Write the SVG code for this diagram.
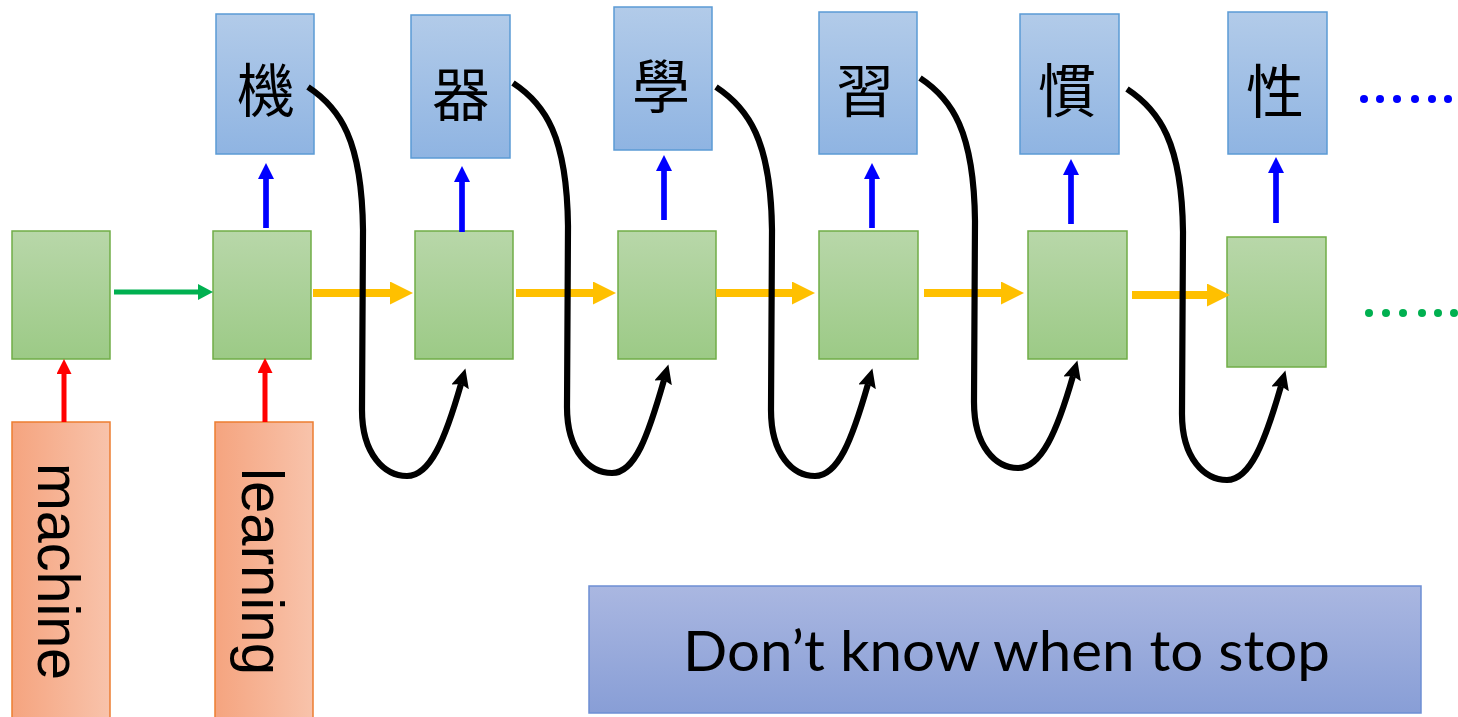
<svg xmlns="http://www.w3.org/2000/svg" width="1458" height="717" viewBox="0 0 1458 717">
<style>
.blue{fill:url(#gBlue);stroke:#5b9bd5;stroke-width:1.5}
.green{fill:url(#gGreen);stroke:#70ad47;stroke-width:1.5}
.red{fill:url(#gRed);stroke:#ed7d31;stroke-width:1.5}
.cjk{font-family:"Noto Sans CJK TC","Noto Sans CJK SC",sans-serif;font-size:58px;fill:#000;text-anchor:middle;dominant-baseline:central}
.word{font-family:"Liberation Sans",Arial,sans-serif;font-size:60px;fill:#000}
.a-red{stroke:#ff0000;stroke-width:5;fill:none;marker-end:url(#mRed)}
.a-blue{stroke:#0000ff;stroke-width:5.7;fill:none;marker-end:url(#mBlue)}
.a-green{stroke:#00b050;stroke-width:5;fill:none;marker-end:url(#mGreen)}
.a-yel{stroke:#ffc000;stroke-width:8;fill:none;marker-end:url(#mYel)}
.a-blk{stroke:#000;stroke-width:6.2;fill:none;marker-end:url(#mBlk)}
</style>
<defs>
<linearGradient id="gBlue" x1="0" y1="0" x2="0" y2="1"><stop offset="0" stop-color="#b2cbe9"/><stop offset="1" stop-color="#8fb4e2"/></linearGradient>
<linearGradient id="gGreen" x1="0" y1="0" x2="0" y2="1"><stop offset="0" stop-color="#b8d7a9"/><stop offset="1" stop-color="#9cca86"/></linearGradient>
<linearGradient id="gRed" x1="0" y1="0" x2="1" y2="0"><stop offset="0" stop-color="#f5a47f"/><stop offset="1" stop-color="#f8c3ab"/></linearGradient>
<linearGradient id="gBottom" x1="0" y1="0" x2="0" y2="1"><stop offset="0" stop-color="#aab7e1"/><stop offset="1" stop-color="#889ed6"/></linearGradient>
<marker id="mRed" markerUnits="userSpaceOnUse" markerWidth="16" markerHeight="16" refX="1" refY="7.5" orient="auto"><path d="M0,0 L15,7.5 L0,15 z" fill="#ff0000"/></marker>
<marker id="mBlue" markerUnits="userSpaceOnUse" markerWidth="17" markerHeight="17" refX="1" refY="8" orient="auto"><path d="M0,0 L16,8 L0,16 z" fill="#0000ff"/></marker>
<marker id="mGreen" markerUnits="userSpaceOnUse" markerWidth="17" markerHeight="17" refX="1" refY="8" orient="auto"><path d="M0,0 L15,8 L0,16 z" fill="#00b050"/></marker>
<marker id="mYel" markerUnits="userSpaceOnUse" markerWidth="24" markerHeight="24" refX="1" refY="11.5" orient="auto"><path d="M0,0 L23,11.5 L0,23 z" fill="#ffc000"/></marker>
<marker id="mBlk" markerUnits="userSpaceOnUse" markerWidth="20" markerHeight="19" refX="3" refY="9" orient="auto"><path d="M0,0 L19,9 L0,18 L3,9 z" fill="#000"/></marker>
</defs>
<rect width="1458" height="717" fill="#fff"/>

<g id="in-machine"><rect class="red" x="12" y="422" width="98" height="300"/><text class="word" transform="translate(38,463) rotate(90)" textLength="217" lengthAdjust="spacingAndGlyphs">machine</text></g>
<g id="in-learning"><rect class="red" x="215" y="422" width="98" height="300"/><text class="word" transform="translate(242,468) rotate(90)" textLength="207" lengthAdjust="spacingAndGlyphs">learning</text></g>

<g id="h1"><rect class="green" x="12" y="231" width="98" height="128"/></g>
<g id="h2"><rect class="green" x="213" y="231" width="98" height="128"/></g>
<g id="h3"><rect class="green" x="415" y="231" width="98" height="128"/></g>
<g id="h4"><rect class="green" x="618" y="231" width="98" height="128"/></g>
<g id="h5"><rect class="green" x="819" y="231" width="99" height="128"/></g>
<g id="h6"><rect class="green" x="1028" y="231" width="99" height="128"/></g>
<g id="h7"><rect class="green" x="1227" y="237" width="99" height="130"/></g>

<g id="o1"><rect class="blue" x="216" y="14" width="98" height="140"/><text class="cjk" x="266" y="87">機</text></g>
<g id="o2"><rect class="blue" x="411" y="15" width="99" height="143"/><text class="cjk" x="461" y="91">器</text></g>
<g id="o3"><rect class="blue" x="614" y="7" width="98" height="143"/><text class="cjk" x="661" y="83">學</text></g>
<g id="o4"><rect class="blue" x="819" y="12" width="98" height="142"/><text class="cjk" x="865" y="87">習</text></g>
<g id="o5"><rect class="blue" x="1020" y="14" width="99" height="140"/><text class="cjk" x="1067" y="87">慣</text></g>
<g id="o6"><rect class="blue" x="1228" y="12" width="99" height="142"/><text class="cjk" x="1275" y="88">性</text></g>

<g id="more-out" fill="#0000ff"><circle cx="1364" cy="99" r="4"/><circle cx="1380" cy="99" r="4"/><circle cx="1397" cy="99" r="4"/><circle cx="1415" cy="99" r="4"/><circle cx="1432" cy="99" r="4"/><circle cx="1448" cy="99" r="4"/></g>
<g id="more-hidden" fill="#00b050"><circle cx="1369" cy="313" r="4"/><circle cx="1386" cy="313" r="4"/><circle cx="1403" cy="313" r="4"/><circle cx="1422" cy="313" r="4"/><circle cx="1438" cy="313" r="4"/><circle cx="1454" cy="313" r="4"/></g>

<g id="note"><rect x="589" y="586" width="832" height="127" fill="url(#gBottom)" stroke="#6d8fd4" stroke-width="1.5"/><text x="683" y="671" font-family="Lato,'Liberation Sans',sans-serif" font-size="57" fill="#000" textLength="647" lengthAdjust="spacingAndGlyphs">Don’t know when to stop</text></g>

<g id="connectors">
<path class="a-red" d="M64,422 L64,373"/>
<path class="a-red" d="M265,422 L265,372"/>
<path class="a-green" d="M114,292 L199,292"/>
<path class="a-blue" d="M266,228 L266,178"/>
<path class="a-blue" d="M462,232 L462,181"/>
<path class="a-blue" d="M664,220 L664,170"/>
<path class="a-blue" d="M872,228 L872,178"/>
<path class="a-blue" d="M1071,224 L1071,174"/>
<path class="a-blue" d="M1276,223 L1276,172"/>
<path class="a-yel" d="M313,293 L391,293"/>
<path class="a-yel" d="M516,293 L594,293"/>
<path class="a-yel" d="M716,293 L793,293"/>
<path class="a-yel" d="M924,293 L1002,293"/>
<path class="a-yel" d="M1132,295 L1208,295"/>
<path class="a-blk" d="M308,87 C340,108 362,140 363,230 L362,410 C362,455 385,476 407,476 C430,476 445,440 461,384"/>
<path class="a-blk" d="M513,83 C545,104 567,136 568,226 L567,407 C567,452 590,473 612,473 C635,473 648,436 664,380"/>
<path class="a-blk" d="M716,87 C748,108 771,140 772,230 L771,410 C771,455 793,476 815,476 C838,476 852,440 868,384"/>
<path class="a-blk" d="M920,78 C952,99 974,131 975,221 L974,402 C974,447 996,468 1018,468 C1041,468 1057,432 1073,376"/>
<path class="a-blk" d="M1127,89 C1159,110 1182,142 1183,232 L1182,414 C1182,459 1205,480 1227,480 C1250,480 1265,442 1281,386"/>
</g>
</svg>
